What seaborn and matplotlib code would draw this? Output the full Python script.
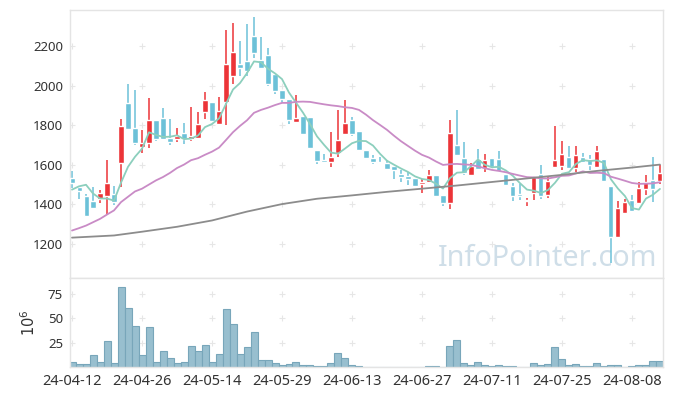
import numpy as np
import pandas as pd
import matplotlib
matplotlib.use('Agg')
import matplotlib.pyplot as plt
import seaborn as sns

# Daily candles, one per trading day from 24-04-12 to 24-08-14
open_ = [1530, 1484, 1439, 1418, 1427, 1440, 1449, 1608, 1912, 1785,
         1689, 1709, 1826, 1836, 1735, 1729, 1758, 1729, 1735, 1867,
         1917, 1806, 1917, 2048, 2109, 2124, 2251, 2129, 2153, 2058,
         1977, 1931, 1814, 1845, 1841, 1672, 1621, 1613, 1658, 1755,
         1824, 1769, 1672, 1631, 1613, 1606, 1591, 1550, 1540, 1531,
         1501, 1511, 1545, 1444, 1405, 1697, 1635, 1545, 1626, 1581,
         1631, 1626, 1554, 1491, 1452, 1417, 1455, 1550, 1444, 1587,
         1591, 1637, 1582, 1637, 1626, 1587, 1626, 1491, 1232, 1354,
         1422, 1405, 1476, 1520, 1516]
high = [1570, 1484, 1449, 1489, 1469, 1621, 1494, 1829, 2007, 1977,
        1777, 1936, 1826, 1889, 1833, 1787, 1809, 1890, 1867, 1968,
        1917, 1940, 2281, 2315, 2227, 2310, 2346, 2247, 2193, 2058,
        1977, 1931, 1953, 1845, 1841, 1672, 1652, 1765, 1879, 1926,
        1841, 1769, 1672, 1647, 1640, 1621, 1591, 1574, 1562, 1531,
        1528, 1574, 1545, 1444, 1828, 1879, 1713, 1608, 1681, 1653,
        1631, 1669, 1554, 1506, 1503, 1432, 1540, 1600, 1537, 1794,
        1718, 1692, 1692, 1657, 1647, 1692, 1626, 1491, 1418, 1427,
        1447, 1510, 1549, 1640, 1600]
low = [1480, 1428, 1339, 1379, 1407, 1351, 1396, 1489, 1780, 1697,
       1658, 1684, 1719, 1729, 1697, 1714, 1706, 1719, 1729, 1833,
       1823, 1800, 1799, 2007, 2048, 2048, 2138, 2090, 1997, 1960,
       1917, 1808, 1814, 1753, 1684, 1605, 1611, 1587, 1638, 1755,
       1743, 1672, 1626, 1603, 1603, 1576, 1528, 1511, 1498, 1494,
       1455, 1511, 1440, 1389, 1374, 1647, 1545, 1540, 1577, 1565,
       1586, 1569, 1496, 1418, 1422, 1389, 1422, 1427, 1432, 1587,
       1571, 1581, 1560, 1610, 1571, 1587, 1516, 1100, 1232, 1354,
       1364, 1405, 1445, 1410, 1503]
close = [1506, 1464, 1339, 1379, 1454, 1505, 1410, 1795, 1780, 1708,
         1709, 1826, 1729, 1729, 1713, 1745, 1729, 1743, 1806, 1927,
         1823, 1870, 2112, 2170, 2090, 2075, 2166, 2090, 2007, 1972,
         1931, 1824, 1836, 1753, 1684, 1618, 1611, 1638, 1726, 1813,
         1753, 1672, 1631, 1613, 1606, 1576, 1571, 1535, 1526, 1494,
         1510, 1545, 1440, 1405, 1758, 1647, 1557, 1591, 1577, 1621,
         1586, 1569, 1496, 1440, 1439, 1423, 1540, 1439, 1515, 1621,
         1652, 1581, 1647, 1613, 1597, 1669, 1516, 1232, 1378, 1408,
         1364, 1479, 1510, 1476, 1555]
# volume in millions of shares
volume = [5, 3, 3, 12, 5, 27, 4, 82, 60, 42.5,
          12, 41.5, 5, 16, 9, 4, 5, 22, 16, 23,
          5, 13, 59, 44.5, 13, 20, 35.5, 7, 7, 4,
          2, 3, 5, 2, 2, 1, 1, 4, 14, 9,
          2, 1, 0.3, 0.3, 0.3, 0.3, 0.3, 0.3, 0.3, 0.3,
          0.5, 1, 1, 0.3, 22, 28, 4, 2, 5, 2,
          1, 2, 1, 1, 0.3, 0.3, 4, 2, 3, 21,
          8, 2, 3, 1, 1, 4, 1, 2, 2, 0.3,
          1, 2, 2, 6, 6]
# closes before the first shown day, only used to start the moving averages
prior_close = [1224, 1079, 1039, 1114, 1065, 990, 955, 1240, 1168, 1429,
               1406, 1309, 1389, 1293, 1255, 1380, 1300, 1600, 1580]
# 120-day average
ma120_pos = [0, 6, 10, 15, 20, 25, 30, 35, 40, 45, 50, 55, 60, 65, 70, 75, 80, 84]
ma120 = [1230, 1241, 1260, 1285, 1317, 1362, 1400, 1427, 1444, 1462,
         1478, 1494, 1512, 1530, 1548, 1568, 1585, 1600]
tick_pos = [0, 10, 20, 30, 40, 50, 60, 70, 80]
tick_labels = ['24-04-12', '24-04-26', '24-05-14', '24-05-29', '24-06-13',
               '24-06-27', '24-07-11', '24-07-25', '24-08-08']

RED = '#ec3438'
BLUE = '#6cc1d8'

df = pd.DataFrame({'open': open_, 'high': high, 'low': low,
                   'close': close, 'volume': volume})
df['pos'] = np.arange(len(df))
all_close = pd.Series(prior_close + close, dtype=float)
n0 = len(prior_close)
df['ma5'] = all_close.rolling(5).mean().iloc[n0:].to_numpy()
df['ma20'] = all_close.rolling(20).mean().iloc[n0:].to_numpy()
df['color'] = np.where(df['close'] >= df['open'], RED, BLUE)

sns.set_style('white')
plt.rcParams['font.family'] = ['Noto Sans', 'DejaVu Sans']
plt.rcParams['mathtext.fontset'] = 'dejavusans'

fig = plt.figure(figsize=(6.73, 3.96), dpi=100)
ax = fig.add_axes([0.104, 0.2987, 0.8811, 0.6760])
axv = fig.add_axes([0.104, 0.0732, 0.8811, 0.2255])

# watermark
ax.text(0.621, 0.044, 'InfoPointer.com', transform=ax.transAxes,
        fontsize=20.7, color='#cfdee8', ha='left', va='baseline', zorder=0)

# grid crosses
gx, gy = np.meshgrid(tick_pos, [1200, 1400, 1600, 1800, 2000, 2200])
ax.scatter(gx.ravel(), gy.ravel(), marker='+', s=20, color='#e6e6e6', lw=0.8, zorder=0)
gx, gy = np.meshgrid(tick_pos, [25, 50, 75])
axv.scatter(gx.ravel(), gy.ravel(), marker='+', s=20, color='#e6e6e6', lw=0.8, zorder=0)

# candles
body = (df['close'] - df['open']).abs().clip(lower=4)
ax.vlines(df['pos'], df['low'], df['high'], colors=df['color'], lw=1.1, zorder=2)
ax.bar(df['pos'], body, bottom=np.minimum(df['open'], df['close']),
       width=0.72, color=df['color'], zorder=3)

# moving averages
sns.lineplot(data=df, x='pos', y='ma5', ax=ax, color='#8ccfbd', lw=1.3, zorder=4)
sns.lineplot(data=df, x='pos', y='ma20', ax=ax, color='#c98bc6', lw=1.3, zorder=4)
sns.lineplot(x=ma120_pos, y=ma120, ax=ax, color='#8c8c8c', lw=1.3, zorder=4)

# volume
sns.barplot(data=df, x='pos', y='volume', ax=axv, native_scale=True, width=1,
            color='#98bfcf', saturation=1, edgecolor='#78a6ba', linewidth=0.8,
            errorbar=None, zorder=2)

for a in (ax, axv):
    a.set_xlim(-0.29, 84.43)
    a.set_xlabel('')
    for s in a.spines.values():
        s.set_color('#e4e4e4')
        s.set_linewidth(1)
    a.tick_params(length=0, labelsize=9.5, colors='#333333', pad=5)
    a.set_xticks(tick_pos)

ax.set_ylim(1027, 2383)
ax.set_yticks([1200, 1400, 1600, 1800, 2000, 2200])
ax.set_ylabel('')
ax.set_xticklabels([])

axv.set_ylim(0, 91.5)
axv.set_yticks([25, 50, 75])
axv.set_xticklabels(tick_labels, fontsize=10.5)
axv.set_ylabel('$10^6$', fontsize=10.5, color='#333333', labelpad=6)

fig.savefig('out.png', dpi=100)
